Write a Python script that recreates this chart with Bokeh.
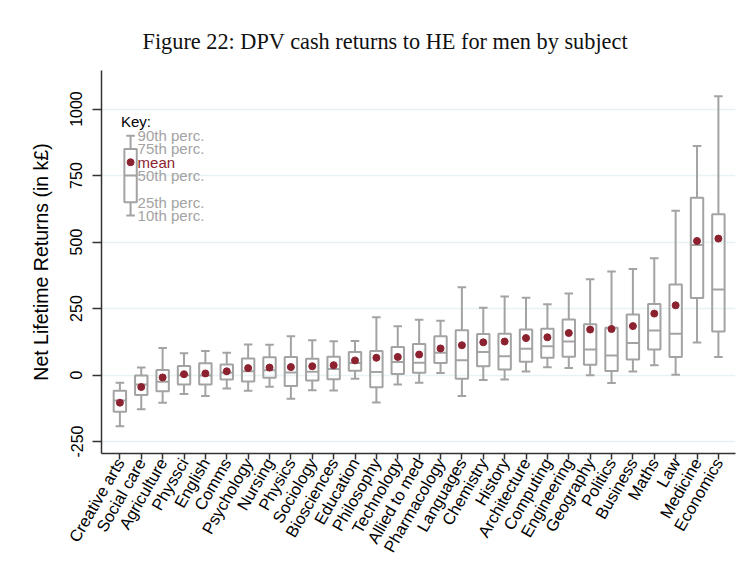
import math
from bokeh.plotting import figure
from bokeh.models import Range1d, FixedTicker, ColumnDataSource
from bokeh.embed import file_html
from bokeh.resources import INLINE
from bokeh.core.properties import value

# Subjects ordered by mean return
subjects = ["Creative arts", "Social care", "Agriculture", "Physsci", "English",
            "Comms", "Psychology", "Nursing", "Physics", "Sociology",
            "Biosciences", "Education", "Philosophy", "Technology",
            "Allied to med", "Pharmacology", "Languages", "Chemistry",
            "History", "Architecture", "Computing", "Engineering",
            "Geography", "Politics", "Business", "Maths", "Law",
            "Medicine", "Economics"]

# Distribution of net lifetime returns (k£)
p90 = [-29, 28, 102, 82, 90, 84, 115, 114, 146, 131, 127, 128, 217, 183, 208,
       204, 330, 253, 295, 291, 266, 307, 360, 389, 399, 439, 618, 861, 1048]
p75 = [-59, -2, 19, 34, 44, 40, 62, 67, 68, 61, 69, 87, 90, 105, 117,
       146, 168, 154, 155, 171, 174, 209, 191, 178, 228, 267, 340, 667, 605]
p50 = [-96, -36, -25, -1, -2, 9, 14, 18, 10, 12, 23, 45, 11, 49, 46,
       84, 56, 87, 71, 99, 108, 126, 96, 73, 120, 167, 155, 489, 322]
p25 = [-138, -75, -61, -36, -36, -17, -24, -10, -41, -21, -16, 16, -46, 4, 9,
       45, -14, 33, 21, 50, 65, 69, 39, 15, 58, 96, 68, 290, 164]
p10 = [-193, -129, -104, -71, -79, -51, -59, -44, -89, -57, -58, -14, -103, -36, -29,
       8, -79, -19, -17, 13, 29, 26, -1, -30, 13, 37, 1, 122, 68]
means = [-104, -45, -9, 3, 6, 14, 26, 28, 30, 33, 37, 55, 65, 68, 77,
         100, 112, 123, 126, 139, 142, 158, 171, 173, 184, 231, 262, 504, 513]

# Legend ("Key") box values and labels
key_vals = [900, 850, 800, 750, 650, 600]
key_labels = ["90th perc.", "75th perc.", "mean", "50th perc.", "25th perc.", "10th perc."]

y_ticks = [-250, 0, 250, 500, 750, 1000]

GRAY = "#a3a3a3"
MAROON = "#8c2230"
BOX_W = 0.58
CAP_W = 0.40

xs = list(range(len(subjects)))
src = ColumnDataSource(dict(
    x=xs,
    p90=p90, p75=p75, p50=p50, p25=p25, p10=p10, mean=means,
    cap_l=[x - CAP_W / 2 for x in xs], cap_r=[x + CAP_W / 2 for x in xs],
    box_l=[x - BOX_W / 2 for x in xs], box_r=[x + BOX_W / 2 for x in xs],
))

p = figure(width=752, height=566, output_backend="svg", toolbar_location=None,
           x_range=Range1d(-0.86, 28.8), y_range=Range1d(-295, 1145),
           min_border_left=101, min_border_right=17, min_border_top=70,
           min_border_bottom=113, background_fill_color="white",
           border_fill_color="white", outline_line_color=None)

# Title
p.title.text = "Figure 22: DPV cash returns to HE for men by subject"
p.title.align = "left"
p.title.text_font = "Liberation Serif"
p.title.text_font_style = "normal"
p.title.text_font_size = "22.3px"
p.title.text_color = "#111111"
p.title.standoff = 33
p.title.offset = 41

# Whiskers and caps
p.segment(x0="x", y0="p75", x1="x", y1="p90", source=src, line_color=GRAY, line_width=2)
p.segment(x0="x", y0="p25", x1="x", y1="p10", source=src, line_color=GRAY, line_width=2)
p.segment(x0="cap_l", y0="p90", x1="cap_r", y1="p90", source=src, line_color=GRAY, line_width=2)
p.segment(x0="cap_l", y0="p10", x1="cap_r", y1="p10", source=src, line_color=GRAY, line_width=2)
# Boxes and medians
p.vbar(x="x", width=BOX_W, top="p75", bottom="p25", source=src,
       fill_color=None, line_color=GRAY, line_width=2)
p.segment(x0="box_l", y0="p50", x1="box_r", y1="p50", source=src, line_color=GRAY, line_width=2)
# Means
p.scatter(x="x", y="mean", source=src, size=7, fill_color=MAROON, line_color=MAROON)

# Key in the upper-left corner
kx = 0.5
k90, k75, kmean, k50, k25, k10 = key_vals
p.segment(x0=[kx, kx], y0=[k75, k25], x1=[kx, kx], y1=[k90, k10], line_color=GRAY, line_width=2)
p.segment(x0=[kx - CAP_W / 2] * 2, y0=[k90, k10], x1=[kx + CAP_W / 2] * 2, y1=[k90, k10],
          line_color=GRAY, line_width=2)
p.vbar(x=[kx], width=BOX_W, top=[k75], bottom=[k25], fill_color=None,
       line_color=GRAY, line_width=2)
p.segment(x0=[kx - BOX_W / 2], y0=[k50], x1=[kx + BOX_W / 2], y1=[k50], line_color=GRAY, line_width=2)
p.scatter(x=[kx], y=[kmean], size=7, fill_color=MAROON, line_color=MAROON)

key_colors = [GRAY, GRAY, MAROON, GRAY, GRAY, GRAY]
p.text(x=[kx + 0.33] * 6, y=key_vals, text=key_labels, text_color=key_colors,
       text_font=value("Liberation Sans"), text_font_size="15px",
       text_baseline="middle", text_align="left")
p.text(x=[0.05], y=[952], text=["Key:"], text_color="black",
       text_font=value("Liberation Sans"), text_font_size="15px",
       text_baseline="middle", text_align="left")

# Axes
p.xgrid.visible = False
p.ygrid.ticker = FixedTicker(ticks=y_ticks)
p.ygrid.grid_line_color = "#e8f1f3"
p.ygrid.grid_line_width = 1.5

p.yaxis.ticker = FixedTicker(ticks=y_ticks)
p.yaxis.major_label_overrides = {t: str(t) for t in y_ticks}
p.yaxis.major_label_orientation = "vertical"
p.yaxis.axis_label = "Net Lifetime Returns (in k£)"
p.yaxis.axis_label_text_font = "Liberation Sans"
p.yaxis.axis_label_text_font_style = "normal"
p.yaxis.axis_label_text_font_size = "19.5px"
p.yaxis.axis_label_text_color = "black"
p.yaxis.axis_label_standoff = 16

p.xaxis.ticker = FixedTicker(ticks=xs)
p.xaxis.major_label_overrides = {i: s for i, s in enumerate(subjects)}
p.xaxis.major_label_orientation = math.radians(60)

for ax in (p.xaxis, p.yaxis):
    ax.axis_line_color = "#333333"
    ax.axis_line_width = 1.5
    ax.major_tick_line_color = "#333333"
    ax.major_tick_line_width = 1.5
    ax.major_tick_in = 0
    ax.minor_tick_line_color = None
    ax.major_label_text_font = "Liberation Sans"
    ax.major_label_text_color = "black"

p.yaxis.major_tick_out = 9
p.yaxis.major_label_standoff = 10
p.yaxis.major_label_text_font_size = "16px"
p.xaxis.major_tick_out = 6
p.xaxis.major_label_standoff = 0
p.xaxis.major_label_text_font_size = "16.5px"

open("out.html", "w").write(file_html(p, INLINE))
